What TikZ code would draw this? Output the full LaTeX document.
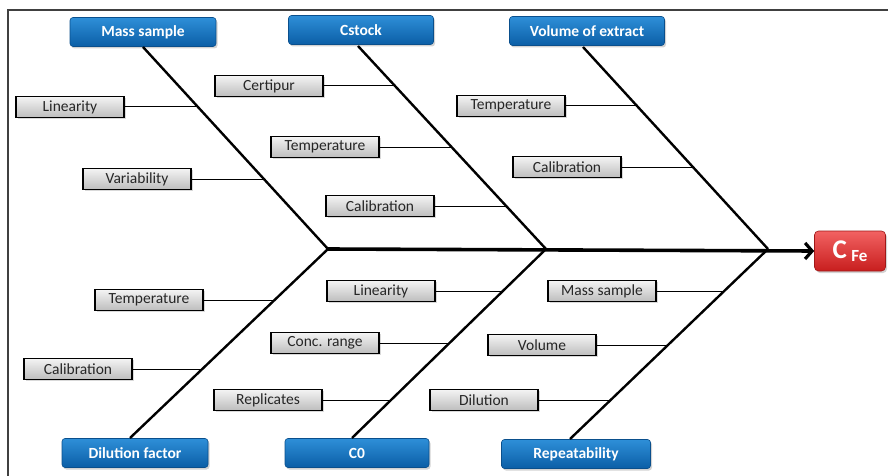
\documentclass[tikz,border=0pt]{standalone}
\usepackage{fontspec}
\setmainfont{Carlito}
\usetikzlibrary{arrows.meta,shadows}
\definecolor{bluetop}{HTML}{2E8FD8}
\definecolor{bluebot}{HTML}{0B5EA6}
\definecolor{blueline}{HTML}{0A4F8C}
\definecolor{redtop}{HTML}{F26262}
\definecolor{redbot}{HTML}{C81E1E}
\definecolor{grtop}{HTML}{F4F4F4}
\definecolor{grbot}{HTML}{BDBDBD}
\tikzset{
  headbox/.style={draw=blueline, line width=0.6pt, rounded corners=3pt,
    top color=bluetop, bottom color=bluebot, text=white,
    font=\fontsize{15.5}{17}\selectfont\bfseries, inner sep=0pt,
    minimum height=29pt,
    drop shadow={opacity=0.35, shadow xshift=1.5pt, shadow yshift=-2pt}},
  causebox/.style={draw=black, line width=1.1pt,
    top color=grtop, bottom color=grbot, text=black!85,
    font=\fontsize{15.5}{17}\selectfont, inner sep=0pt,
    minimum width=108pt, minimum height=21pt,
    drop shadow={opacity=0.3, shadow xshift=1.5pt, shadow yshift=-1.5pt}},
  effectbox/.style={draw=redbot!80!black, line width=0.6pt, rounded corners=4pt,
    top color=redtop, bottom color=redbot, text=white, inner sep=0pt,
    minimum width=71pt, minimum height=40pt,
    drop shadow={opacity=0.35, shadow xshift=1.5pt, shadow yshift=-2pt}},
  spine/.style={line width=3.6pt, -{Straight Barb[length=7pt,width=16pt,line width=3.2pt]}},
  bone/.style={line width=2.4pt},
  twig/.style={line width=1pt},
  frame/.style={line width=2pt, black!75}
}
\begin{document}
\begin{tikzpicture}[x=1pt,y=-1pt]
\useasboundingbox (0,0) rectangle (888,476);
\draw[frame] (8,476) -- (8,10) -- (888,10);

% junctions on the spine
\coordinate (j1) at (328,249);
\coordinate (j2) at (546,249);
\coordinate (j3) at (768,249);
\coordinate (tail) at (328,249);

% effect
\node[effectbox] (eff) at (850,251) {\fontsize{27}{28}\selectfont\bfseries C\,\fontsize{17}{18}\selectfont\raisebox{-2.5pt}{Fe}};
\draw[spine] (tail) -- (eff.west);

% heads (top)
\node[headbox, minimum width=146pt] (hA) at (143,32) {Mass sample};
\node[headbox, minimum width=145pt] (hB) at (361,30) {Cstock};
\node[headbox, minimum width=155pt] (hC) at (587,31) {Volume of extract};
% heads (bottom)
\node[headbox, minimum width=146pt] (hD) at (135,453) {Dilution factor};
\node[headbox, minimum width=144pt] (hE) at (357,453) {C0};
\node[headbox, minimum width=149pt] (hF) at (576,454) {Repeatability};

% bone start points
\coordinate (sA) at (143,47);
\coordinate (sB) at (358,46);
\coordinate (sC) at (583,47);
\coordinate (sD) at (130,438);
\coordinate (sE) at (352,438);
\coordinate (sF) at (570,439);

\draw[bone] (sA) -- (j1);
\draw[bone] (sB) -- (j2);
\draw[bone] (sC) -- (j3);
\draw[bone] (sD) -- (j1);
\draw[bone] (sE) -- (j2);
\draw[bone] (sF) -- (j3);

% causes
\node[causebox] (c1) at (70,107) {Linearity};
\node[causebox] (c2) at (137,179) {Variability};
\node[causebox] (c3) at (269,86) {Certipur};
\node[causebox] (c4) at (325,147) {Temperature};
\node[causebox] (c5) at (380,206) {Calibration};
\node[causebox] (c6) at (511,106) {Temperature};
\node[causebox] (c7) at (567,167) {Calibration};
\node[causebox] (c8) at (149,300) {Temperature};
\node[causebox] (c9) at (78,369) {Calibration};
\node[causebox] (c10) at (381,291) {Linearity};
\node[causebox] (c11) at (325,343) {Conc. range};
\node[causebox] (c12) at (268,400) {Replicates};
\node[causebox] (c13) at (602,291) {Mass sample};
\node[causebox] (c14) at (542,345) {Volume};
\node[causebox] (c15) at (484,400) {Dilution};

% points on bones
\coordinate (p1) at (198,107);
\coordinate (p2) at (264,179);
\coordinate (p3) at (395,86);
\coordinate (p4) at (451,147);
\coordinate (p5) at (506,206);
\coordinate (p6) at (637,106);
\coordinate (p7) at (693,167);
\coordinate (p8) at (274,300);
\coordinate (p9) at (202,369);
\coordinate (p10) at (503,291);
\coordinate (p11) at (449,343);
\coordinate (p12) at (390,400);
\coordinate (p13) at (724,291);
\coordinate (p14) at (667,345);
\coordinate (p15) at (610,400);

\foreach \i in {1,...,15} {\draw[twig] (c\i.east) -- (p\i);}
\end{tikzpicture}
\end{document}
